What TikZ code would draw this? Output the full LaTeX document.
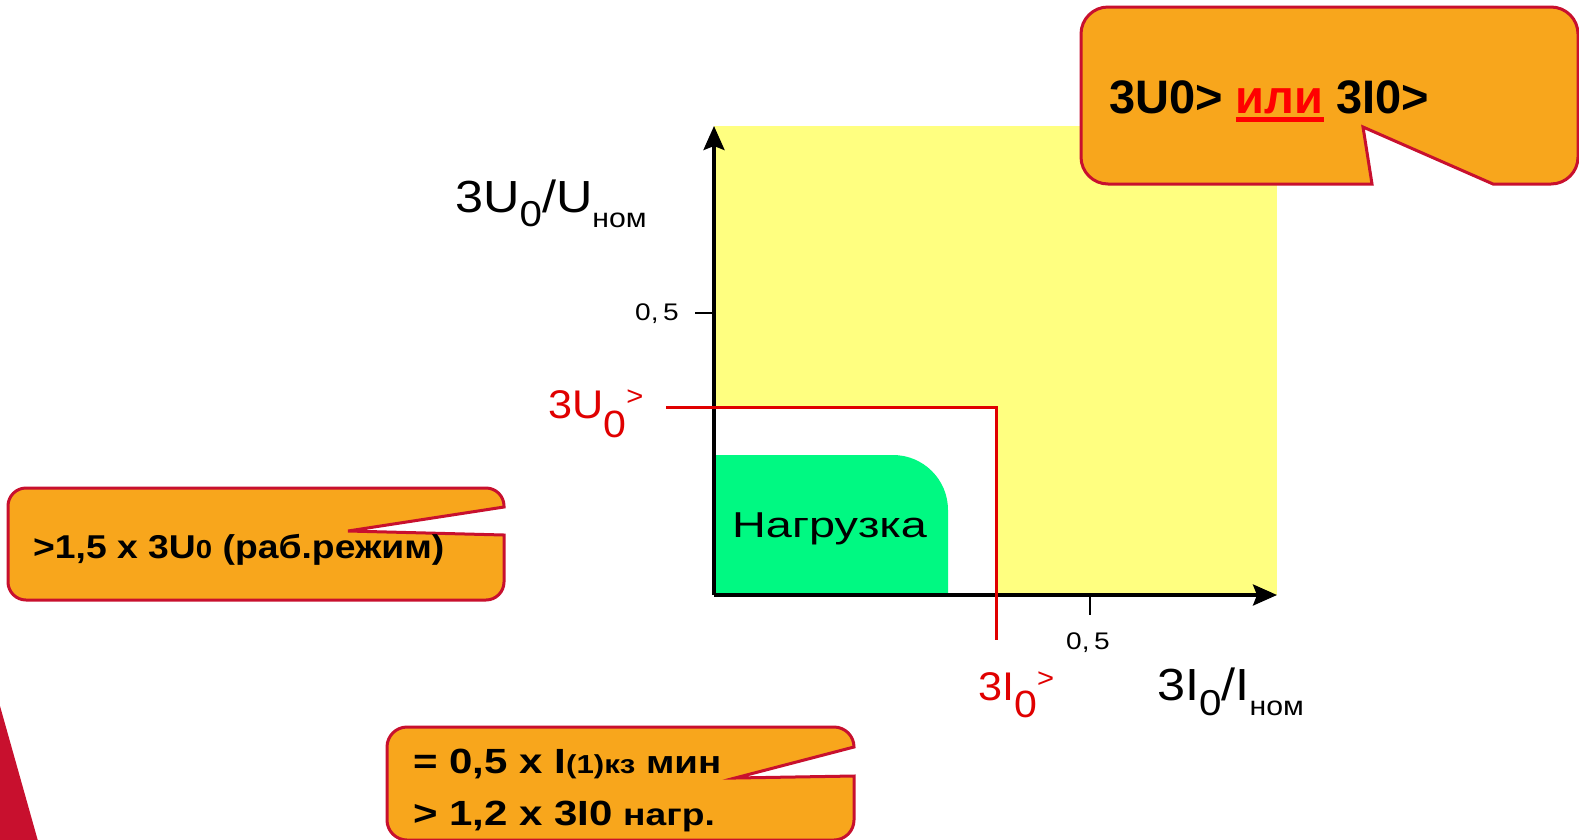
\documentclass[tikz,border=0pt]{standalone}
\usepackage{fontspec}
\setmainfont{Liberation Sans}
\usetikzlibrary{arrows.meta}
\definecolor{orfill}{HTML}{F8A61C}
\definecolor{crim}{HTML}{C8102E}
\definecolor{yel}{HTML}{FFFF80}
\definecolor{grn}{HTML}{00F982}
\definecolor{redl}{HTML}{E00000}
\definecolor{redt}{HTML}{FF0000}
\newcommand\fs[1]{\fontsize{#1}{#1}\selectfont}
\newsavebox\ulbox
\newcommand\thickul[1]{\sbox\ulbox{#1}\rlap{\rule[-9pt]{\wd\ulbox}{5pt}}\usebox\ulbox}
\begin{document}
\begin{tikzpicture}[x=1pt,y=-1pt,
  lbl/.style={inner sep=0pt, anchor=base west},
  callout/.style={fill=orfill, draw=crim, line width=3pt, line join=miter},
  axis/.style={line width=3.5pt, -{Stealth[length=24pt,width=21pt,inset=4pt]}},
  thr/.style={draw=redl, line width=3pt},
  tickline/.style={line width=2.5pt}]
\useasboundingbox (0,0) rectangle (1579,839);
\fill[white] (0,0) rectangle (1579,839);

% regions
\fill[yel] (714,126) rectangle (1277,595);
\fill[white] (714,407) rectangle (996,595);
\fill[grn] (714,595) -- (714,455) -- (893,455) .. controls (923.4,455) and (948,479.6) .. (948,510) -- (948,595) -- cycle;

% coordinates
\coordinate (O) at (714,595);
\coordinate (ytop) at (714,126);
\coordinate (xend) at (1277,595);
\coordinate (yt0) at (695,313);
\coordinate (yt1) at (714,313);
\coordinate (xt0) at (1090,595);
\coordinate (xt1) at (1090,615);
\coordinate (u0) at (666,407);
\coordinate (corner) at (996,407);
\coordinate (i0) at (996,640);

% axes
\draw[axis] (O) -- (ytop);
\draw[axis] (O) -- (xend);
\draw[tickline] (yt0) -- (yt1);
\draw[tickline] (xt0) -- (xt1);
\draw[thr] (u0) -- (corner) -- (i0);

% labels
\node[anchor=center, inner sep=0pt] (yt) at (657,314) {\scalebox{1.17}[1]{\fs{24}0,\,5}};
\node[anchor=center, inner sep=0pt] (xt) at (1088,643) {\scalebox{1.17}[1]{\fs{24}0,\,5}};
\node[lbl] (nagr) at (732,537) {\scalebox{1.3}[1]{\fs{36}Нагрузка}};
\node[lbl] (ylab) at (455,212) {\scalebox{1.12}[1]{\fs{45}3U\raisebox{-14pt}{\fs{36}0}/U\raisebox{-15pt}{\fs{27}ном}}};
\node[lbl] (xlab) at (1157,700) {\scalebox{1.12}[1]{\fs{45}3I\raisebox{-15pt}{\fs{36}0}/I\raisebox{-15pt}{\fs{27}ном}}};
\node[lbl, text=redl] (u0lab) at (548,418) {\scalebox{1.08}[1]{\fs{40}3U\raisebox{-19pt}{\fs{38}0}\raisebox{13pt}{\fs{27}>}}};
\node[lbl, text=redl] (i0lab) at (978,700) {\scalebox{1.08}[1]{\fs{40}3I\raisebox{-17pt}{\fs{38}0}\raisebox{13pt}{\fs{27}>}}};

% red corner shape
\fill[crim] (0,706) -- (38,841) -- (0,841) -- cycle;

% callouts
\draw[callout] (1372,184) -- (1108,184) .. controls (1093.1,184) and (1081,171.9) .. (1081,157)
  -- (1081,34) .. controls (1081,19.1) and (1093.1,7) .. (1108,7)
  -- (1551,7) .. controls (1565.9,7) and (1578,19.1) .. (1578,34)
  -- (1578,157) .. controls (1578,171.9) and (1565.9,184) .. (1551,184)
  -- (1493,184) -- (1363,127) -- cycle;
\node[lbl] (toptxt) at (1109,113) {\bfseries\fs{47}3U0> \textcolor{redt}{\thickul{или}} 3I0>};

\draw[callout] (504,535) -- (504,582) .. controls (504,591.9) and (495.9,600) .. (486,600)
  -- (26,600) .. controls (16.1,600) and (8,591.9) .. (8,582)
  -- (8,506) .. controls (8,496.1) and (16.1,488) .. (26,488)
  -- (486,488) .. controls (495.9,488) and (504,496.1) .. (504,506)
  -- (504,507) -- (348,531) -- cycle;
\node[lbl] (lefttxt) at (33,558) {\scalebox{1.13}[1]{\bfseries\fs{33}>1,5 x 3U{\fs{26}0} (раб.режим)}};

\draw[callout] (854,776) -- (854,820) .. controls (854,831) and (845,840) .. (834,840)
  -- (407,840) .. controls (396,840) and (387,831) .. (387,820)
  -- (387,747) .. controls (387,736) and (396,727) .. (407,727)
  -- (834,727) .. controls (845,727) and (854,736) .. (854,747)
  -- (735,778) -- cycle;
\node[lbl] (bot1) at (413,773) {\scalebox{1.2}[1]{\bfseries\fs{35}= 0,5 x I{\fs{26}(1)кз}{\fs{32} мин}}};
\node[lbl] (bot2) at (413,825) {\scalebox{1.2}[1]{\bfseries\fs{35}> 1,2 x 3I0{\fs{31} нагр.}}};
\end{tikzpicture}
\end{document}
